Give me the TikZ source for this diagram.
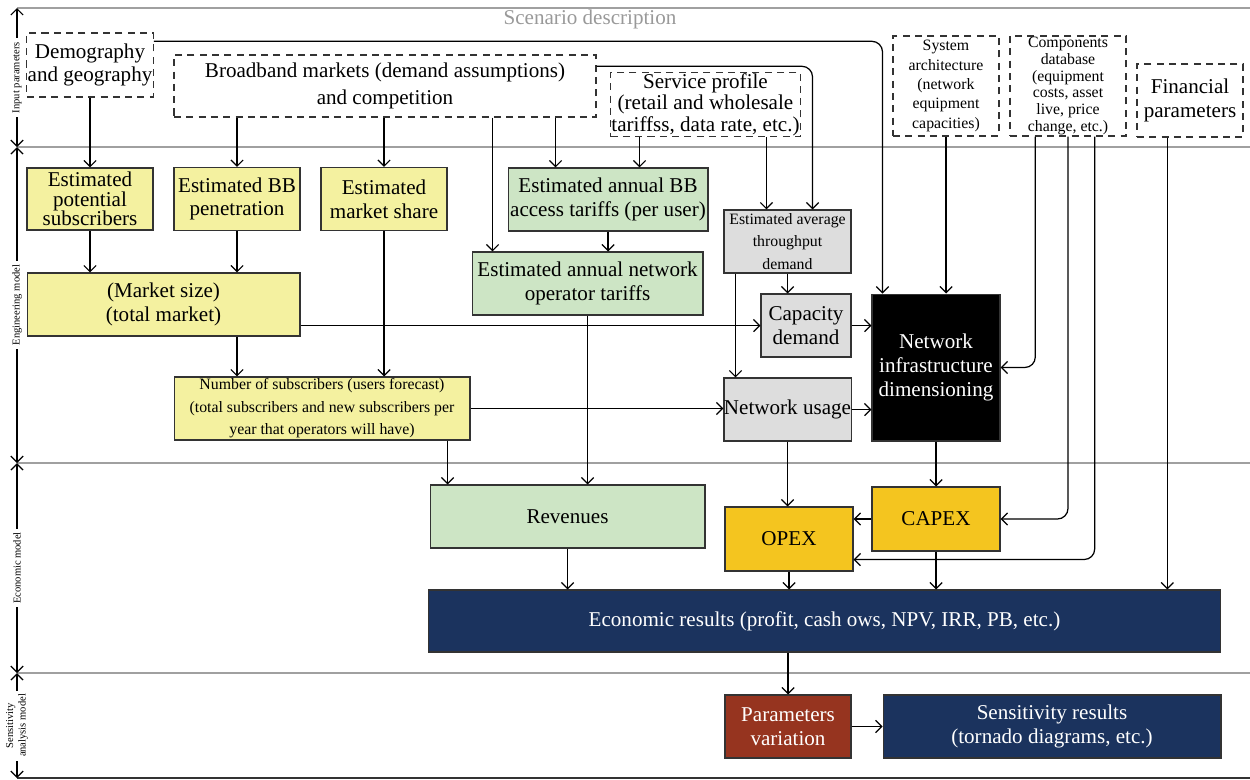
\documentclass[tikz,border=0pt]{standalone}
\usepackage{fontspec}
\setmainfont{Liberation Serif}
\usetikzlibrary{arrows.meta, calc}

\definecolor{boxyellow}{HTML}{F4F1A0}
\definecolor{boxgreen}{HTML}{CDE5C5}
\definecolor{boxgray}{HTML}{DDDDDD}
\definecolor{boxgold}{HTML}{F4C51F}
\definecolor{boxnavy}{HTML}{1B335E}
\definecolor{boxred}{HTML}{96341F}
\definecolor{rulegray}{HTML}{A0A0A0}

\begin{document}
\begin{tikzpicture}[x=0.02cm, y=-0.02cm, line width=0.7pt,
	>={Straight Barb[length=3.5pt,width=7pt]},
	box/.style={draw=black!80, line width=0.6pt, align=center, inner sep=0.5pt,
		minimum height=1.26cm, font=\fontsize{12}{13.5}\selectfont},
	input/.style={box, fill=white, line width=0.8pt, dash pattern=on 4pt off 3pt},
	smalltext/.style={font=\fontsize{9}{11}\selectfont},
	ybox/.style={box, fill=boxyellow},
	gbox/.style={box, fill=boxgreen},
	greybox/.style={box, fill=boxgray},
	blackbox/.style={box, fill=black, text=white},
	goldbox/.style={box, fill=boxgold},
	navybox/.style={box, fill=boxnavy, text=white},
	redbox/.style={box, fill=boxred, text=white},
	side/.style={fill=white, rotate=90, inner sep=2pt, align=center, font=\fontsize{6}{7}\selectfont},
	rule/.style={draw=rulegray}]

	\useasboundingbox (0,0) rectangle (1250,779);

	\foreach \y/\n in {8/0, 147/1, 463/2, 673/3, 778/4}
		\coordinate (ax\n) at (17,\y);
	\coordinate (rt) at (1250,0);

	\draw[rule] (ax0) -- (ax0 -| rt);
	\draw[rule] (ax1) -- (ax1 -| rt);
	\draw[rule] (ax2) -- (ax2 -| rt);
	\draw[rule] (ax3) -- (ax3 -| rt);
	\draw[black!80] (ax4) -- (ax4 -| rt);

	\draw[<->] (ax0) -- node[side] {Input parameters} (ax1);
	\draw[<->] (ax1) -- node[side] {Engineering model} (ax2);
	\draw[<->] (ax2) -- node[side] {Economic model} (ax3);
	\draw[<->] (ax3) -- node[side] {Sensitivity\\analysis model} (ax4);

	\node[text=black!40, font=\fontsize{12}{13.5}\selectfont] (scen) at (590,19) {Scenario description};

	\node[input, minimum width=2.52cm, minimum height=1.28cm] (demo) at (90,65) {Demography\\and geography};
	\node[input, minimum width=8.44cm, minimum height=1.24cm] (bbm) at (385,86) {Broadband markets (demand assumptions)\\[2pt]and competition};
	\node[input, minimum width=3.78cm, font=\fontsize{12}{12.3}\selectfont] (svc) at (705.5,104.5) {Service profile\\(retail and wholesale\\tariffss, data rate, etc.)};
	\node[input, smalltext, minimum width=2.12cm, minimum height=2cm] (sys) at (946,86) {System\\architecture\\(network\\equipment\\capacities)};
	\node[input, minimum width=2.32cm, minimum height=2cm, font=\fontsize{9}{9.5}\selectfont] (comp) at (1068,86) {Components\\database\\(equipment\\costs, asset\\live, price\\change, etc.)};
	\node[input, minimum width=2.12cm, minimum height=1.46cm] (fin) at (1190,100.5) {Financial\\parameters};

	\node[ybox, minimum width=2.52cm, minimum height=1.24cm, font=\fontsize{12}{11}\selectfont] (potsub) at (90,199) {Estimated\\potential\\subscribers};
	\node[ybox, minimum width=2.52cm] (pen) at (237,199) {Estimated BB\\penetration};
	\node[ybox, minimum width=2.52cm] (share) at (384,199) {Estimated\\market share};
	\node[gbox, minimum width=4cm] (acc) at (608,199.5) {Estimated annual BB\\access tariffs (per user)};
	\node[gbox, minimum width=4.62cm] (optar) at (587.5,283.5) {Estimated annual network\\operator tariffs};
	\node[greybox, minimum width=2.54cm, font=\fontsize{9}{12.6}\selectfont] (thr) at (787.5,241.5) {Estimated average\\throughput\\demand};
	\node[greybox, minimum width=1.8cm] (capd) at (806,325.5) {Capacity\\demand};
	\node[greybox, minimum width=2.54cm, inner sep=0pt] (nuse) at (787.5,409.5) {Network usage};
	\node[blackbox, minimum width=2.56cm, minimum height=2.94cm] (nid) at (936,367.5) {Network\\infrastructure\\dimensioning};
	\node[ybox, minimum width=5.46cm] (msize) at (163.5,304.5) {(Market size)\\(total market)};
	\node[ybox, minimum width=5.92cm, font=\fontsize{9}{12.8}\selectfont] (nsub) at (322,408.5) {Number of subscribers (users forecast)\\(total subscribers and new subscribers per\\year that operators will have)};

	\node[gbox, minimum width=5.5cm] (rev) at (567.5,516.5) {Revenues};
	\node[goldbox, minimum width=2.56cm, minimum height=1.28cm] (opex) at (789,539) {OPEX};
	\node[goldbox, minimum width=2.56cm, minimum height=1.28cm] (capex) at (936,519) {CAPEX};
	\node[navybox, minimum width=15.86cm, minimum height=1.24cm] (econ) at (824.5,621) {Economic results (profit, cash ows, NPV, IRR, PB, etc.)};

	\node[redbox, minimum width=2.52cm] (parv) at (788,726.5) {Parameters\\variation};
	\node[navybox, minimum width=6.76cm] (sens) at (1052,726.5) {Sensitivity results\\(tornado diagrams, etc.)};

	\coordinate (demoout) at ($(demo.north east)+(0,9)$);
	\coordinate (bbmout) at ($(bbm.north east)+(0,12)$);
	\coordinate (optin) at ($(optar.north west)+(21,0)$);
	\coordinate (accin1) at ($(acc.north west)+(48,0)$);
	\coordinate (accin2) at ($(acc.north west)+(132,0)$);
	\coordinate (thrin1) at ($(thr.north west)+(43,0)$);
	\coordinate (thrin2) at ($(thr.north east)+(-39,0)$);
	\coordinate (throut) at ($(thr.south west)+(12,0)$);
	\coordinate (nidin) at ($(nid.north west)+(11,0)$);
	\coordinate (revin) at ($(rev.north west)+(18,0)$);
	\coordinate (compout1) at ($(comp.south west)+(26,0)$);
	\coordinate (compout3) at ($(comp.south east)+(-32,0)$);
	\coordinate (opexin) at ($(opex.south east)+(0,-12)$);
	\coordinate (finout) at ($(fin.south west)+(31,0)$);

	\path[->] (demo) edge (potsub);
	\path[->] (bbm.south -| pen) edge (pen);
	\path[->] (bbm.south -| share) edge (share);
	\path[->] (bbm.south -| optin) edge (optin);
	\path[->] (bbm.south -| accin1) edge (accin1);
	\path[->] (svc.south -| accin2) edge (accin2);
	\path[->] (svc.south -| thrin1) edge (thrin1);
	\draw[->, rounded corners=6pt] (bbmout) -| (thrin2);
	\draw[->, rounded corners=6pt] (demoout) -| (nidin);
	\path[->] (sys) edge (sys |- nid.north);
	\draw[->, rounded corners=6pt] (compout1) |- (nid.east);
	\draw[->, rounded corners=6pt] (comp.south) |- (capex.east);
	\draw[->, rounded corners=6pt] (compout3) |- (opexin);
	\path[->] (finout) edge (finout |- econ.north);

	\path[->] (potsub) edge (potsub |- msize.north);
	\path[->] (pen) edge (pen |- msize.north);
	\path[->] (msize.south -| pen) edge (nsub.north -| pen);
	\path[->] (share) edge (share |- nsub.north);
	\path[->] (acc) edge (acc |- optar.north);
	\path[->] (thr) edge (thr |- capd.north);
	\path[->] (throut) edge (throut |- nuse.north);
	\path[->] (msize.east |- capd) edge (capd);
	\path[->] (capd) edge (capd -| nid.west);
	\path[->] (nsub) edge (nsub -| nuse.west);
	\path[->] (nuse) edge (nuse -| nid.west);

	\path[->] (nsub.south -| revin) edge (revin);
	\path[->] (optar) edge (optar |- rev.north);
	\path[->] (nuse) edge (nuse |- opex.north);
	\path[->] (nid) edge (capex);
	\path[->] (capex) edge (capex -| opex.east);
	\path[->] (rev) edge (rev |- econ.north);
	\path[->] (opex) edge (opex |- econ.north);
	\path[->] (capex) edge (capex |- econ.north);
	\path[->] (econ.south -| parv) edge (parv);
	\path[->] (parv) edge (sens);
\end{tikzpicture}
\end{document}
